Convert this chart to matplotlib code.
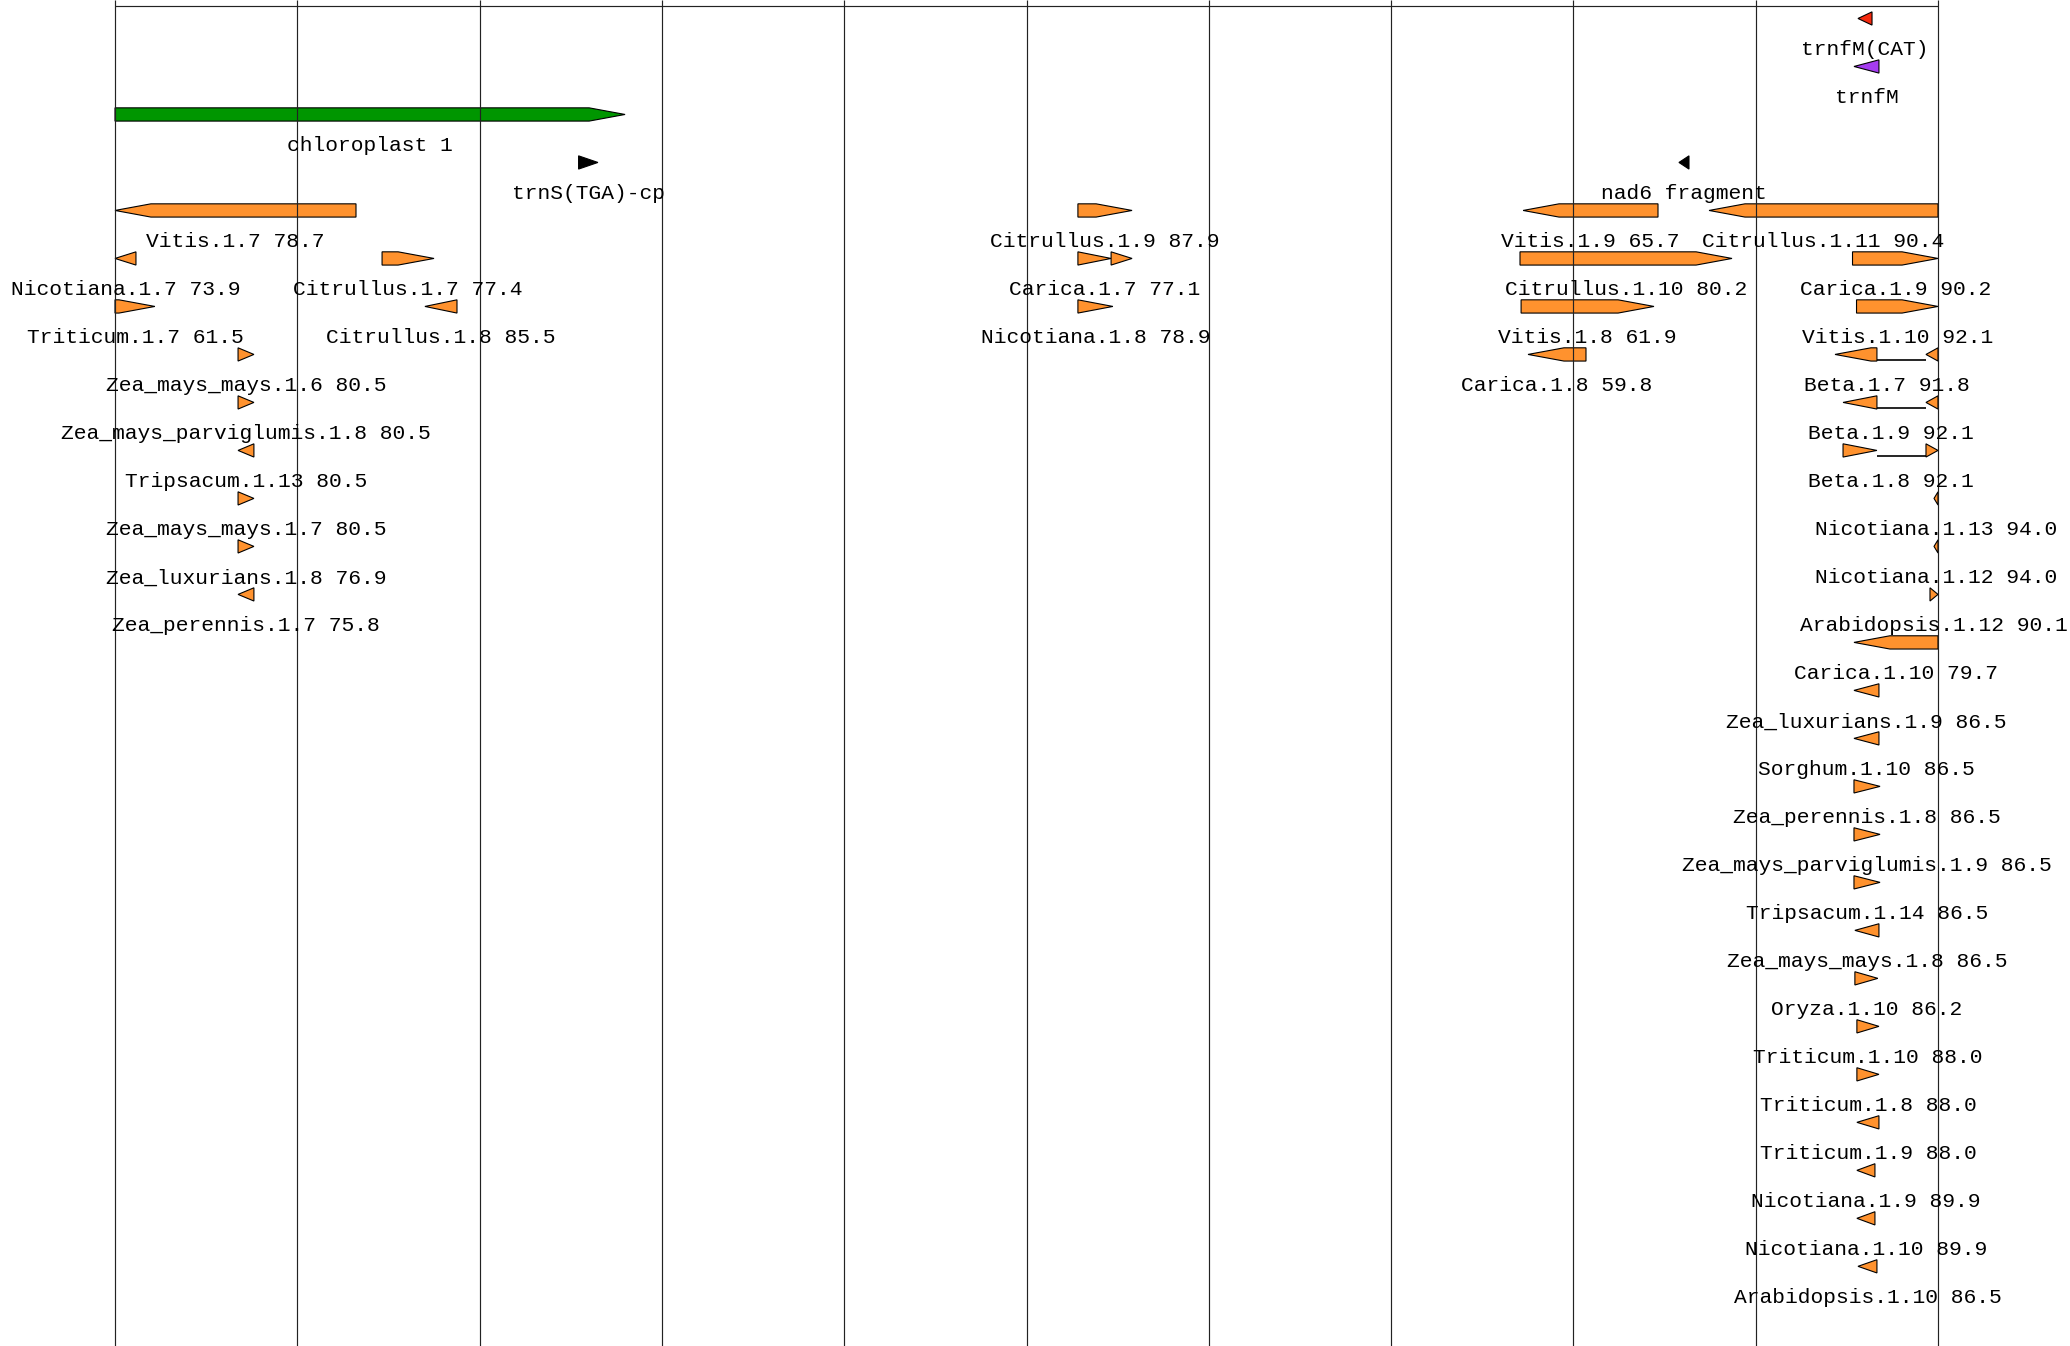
import matplotlib
matplotlib.use('Agg')
import matplotlib.pyplot as plt
from matplotlib.patches import Polygon


# sequence coordinates, grid every 100 units
seq_start = 0
seq_end = 1000
grid_step = 100

# annotated features (top lanes)
feat_names = ['trnfM(CAT)', 'trnfM', 'chloroplast 1', 'trnS(TGA)-cp', 'nad6 fragment']
feat_kind = ['trna_cat', 'trna', 'chloroplast', 'misc', 'misc']
feat_lane = [0, 1, 2, 3, 3]
feat_strand = ['-', '-', '+', '+', '-']
feat_start = [956.1, 953.9, 0.0, 254.3, 857.9]
feat_end = [963.8, 967.6, 279.8, 264.9, 863.4]

# blast hits: name, identity, lane, strand, list of (start, end) parts
hit_names = [
    'Vitis.1.7', 'Citrullus.1.9', 'Vitis.1.9', 'Citrullus.1.11',
    'Nicotiana.1.7', 'Citrullus.1.7', 'Carica.1.7', 'Citrullus.1.10', 'Carica.1.9',
    'Triticum.1.7', 'Citrullus.1.8', 'Nicotiana.1.8', 'Vitis.1.8', 'Vitis.1.10',
    'Zea_mays_mays.1.6', 'Carica.1.8', 'Beta.1.7',
    'Zea_mays_parviglumis.1.8', 'Beta.1.9',
    'Tripsacum.1.13', 'Beta.1.8',
    'Zea_mays_mays.1.7', 'Nicotiana.1.13',
    'Zea_luxurians.1.8', 'Nicotiana.1.12',
    'Zea_perennis.1.7', 'Arabidopsis.1.12',
    'Carica.1.10', 'Zea_luxurians.1.9', 'Sorghum.1.10', 'Zea_perennis.1.8',
    'Zea_mays_parviglumis.1.9', 'Tripsacum.1.14', 'Zea_mays_mays.1.8',
    'Oryza.1.10', 'Triticum.1.10', 'Triticum.1.8', 'Triticum.1.9',
    'Nicotiana.1.9', 'Nicotiana.1.10', 'Arabidopsis.1.10',
]
hit_ident = [
    78.7, 87.9, 65.7, 90.4,
    73.9, 77.4, 77.1, 80.2, 90.2,
    61.5, 85.5, 78.9, 61.9, 92.1,
    80.5, 59.8, 91.8,
    80.5, 92.1,
    80.5, 92.1,
    80.5, 94.0,
    76.9, 94.0,
    75.8, 90.1,
    79.7, 86.5, 86.5, 86.5,
    86.5, 86.5, 86.5,
    86.2, 88.0, 88.0, 88.0,
    89.9, 89.9, 86.5,
]
hit_lane = [
    4, 4, 4, 4,
    5, 5, 5, 5, 5,
    6, 6, 6, 6, 6,
    7, 7, 7,
    8, 8,
    9, 9,
    10, 10,
    11, 11,
    12, 12,
    13, 14, 15, 16,
    17, 18, 19,
    20, 21, 22, 23,
    24, 25, 26,
]
hit_strand = [
    '-', '+', '-', '-',
    '-', '+', '+', '+', '+',
    '+', '-', '+', '+', '+',
    '+', '-', '-',
    '+', '-',
    '-', '+',
    '+', '-',
    '+', '-',
    '-', '+',
    '-', '-', '-', '+',
    '+', '+', '-',
    '+', '+', '+', '-',
    '-', '-', '-',
]
hit_parts = [
    [(0.0, 132.2)], [(528.2, 557.9)], [(772.4, 846.4)], [(874.4, 1000.0)],
    [(0.0, 11.5)], [(146.5, 175.0)], [(528.2, 546.4), (546.4, 557.9)],
    [(770.7, 887.0)], [(953.1, 1000.0)],
    [(0.0, 21.9)], [(170.0, 187.6)], [(528.2, 547.4)], [(771.3, 844.2)], [(955.3, 1000.0)],
    [(67.5, 76.2)], [(775.1, 806.9)], [(943.5, 966.5), (993.4, 1000.0)],
    [(67.5, 76.2)], [(947.9, 966.5), (993.4, 1000.0)],
    [(67.5, 76.2)], [(947.9, 966.5), (993.4, 1000.0)],
    [(67.5, 76.2)], [(997.8, 1000.0)],
    [(67.5, 76.2)], [(997.8, 1000.0)],
    [(67.5, 76.2)], [(995.6, 1000.0)],
    [(953.9, 1000.0)], [(953.9, 967.6)], [(953.9, 967.6)], [(953.9, 968.2)],
    [(953.9, 968.2)], [(953.9, 968.2)], [(954.4, 967.6)],
    [(954.4, 967.0)], [(955.5, 967.6)], [(955.5, 967.6)], [(955.5, 967.6)],
    [(955.5, 965.4)], [(955.5, 965.4)], [(956.1, 966.5)],
]

colours = {
    'trna_cat': '#f52a0e',
    'trna': '#a53cf0',
    'chloroplast': '#009600',
    'misc': '#000000',
    'hit': '#ff922e',
}

# drawing style (in data units)
HEAD = 19.7        # arrow head length
HALF_H = 0.138     # half of block height
LABEL_DY = 0.77    # baseline offset of label below block
FONT = 'Liberation Mono'
FONT_SIZE = 15.3


def arrow_polygon(x0, x1, y, strand):
    """Block with a pointed end, triangle when shorter than the head."""
    if strand == '+':
        body = max(x0, x1 - HEAD)
        pts = [(x0, y - HALF_H), (body, y - HALF_H), (x1, y),
               (body, y + HALF_H), (x0, y + HALF_H)]
    else:
        body = min(x1, x0 + HEAD)
        pts = [(x1, y - HALF_H), (body, y - HALF_H), (x0, y),
               (body, y + HALF_H), (x1, y + HALF_H)]
    return pts


def draw_feature(ax, parts, lane, strand, colour, label):
    for x0, x1 in parts:
        poly = Polygon(arrow_polygon(x0, x1, lane, strand), closed=True,
                       facecolor=colour, edgecolor='black', lw=0.8, zorder=2)
        ax.add_patch(poly)
    # connectors between parts
    for (a0, a1), (b0, b1) in zip(parts[:-1], parts[1:]):
        if b0 > a1 + 0.5:
            ax.plot([a1, b0], [lane + 0.115, lane + 0.115], color='black',
                    lw=1.2, solid_capstyle='butt', zorder=2)
    lo = min(p[0] for p in parts)
    hi = max(p[1] for p in parts)
    ax.text((lo + hi) / 2, lane + LABEL_DY, label, ha='center', va='baseline',
            family=FONT, fontsize=FONT_SIZE, color='black', zorder=4)


def main():
    fig = plt.figure(figsize=(20.7, 13.46), dpi=100)
    ax = fig.add_axes([0, 0, 1, 1])
    ax.set_xlim(-63.08, 1072.4)
    ax.set_ylim(27.66, -0.385)
    ax.axis('off')

    # grid
    ax.vlines(range(seq_start, seq_end + 1, grid_step), -0.385, 27.66,
              color='#222222', lw=0.85, zorder=3)
    ax.hlines(-0.26, seq_start, seq_end, color='#222222', lw=0.85, zorder=3)

    for name, kind, lane, strand, s, e in zip(feat_names, feat_kind, feat_lane,
                                              feat_strand, feat_start, feat_end):
        draw_feature(ax, [(s, e)], lane, strand, colours[kind], name)

    for name, ident, lane, strand, parts in zip(hit_names, hit_ident, hit_lane,
                                                hit_strand, hit_parts):
        draw_feature(ax, parts, lane, strand, colours['hit'],
                     '%s %.1f' % (name, ident))

    fig.savefig('out.png', dpi=100)


if __name__ == '__main__':
    main()
